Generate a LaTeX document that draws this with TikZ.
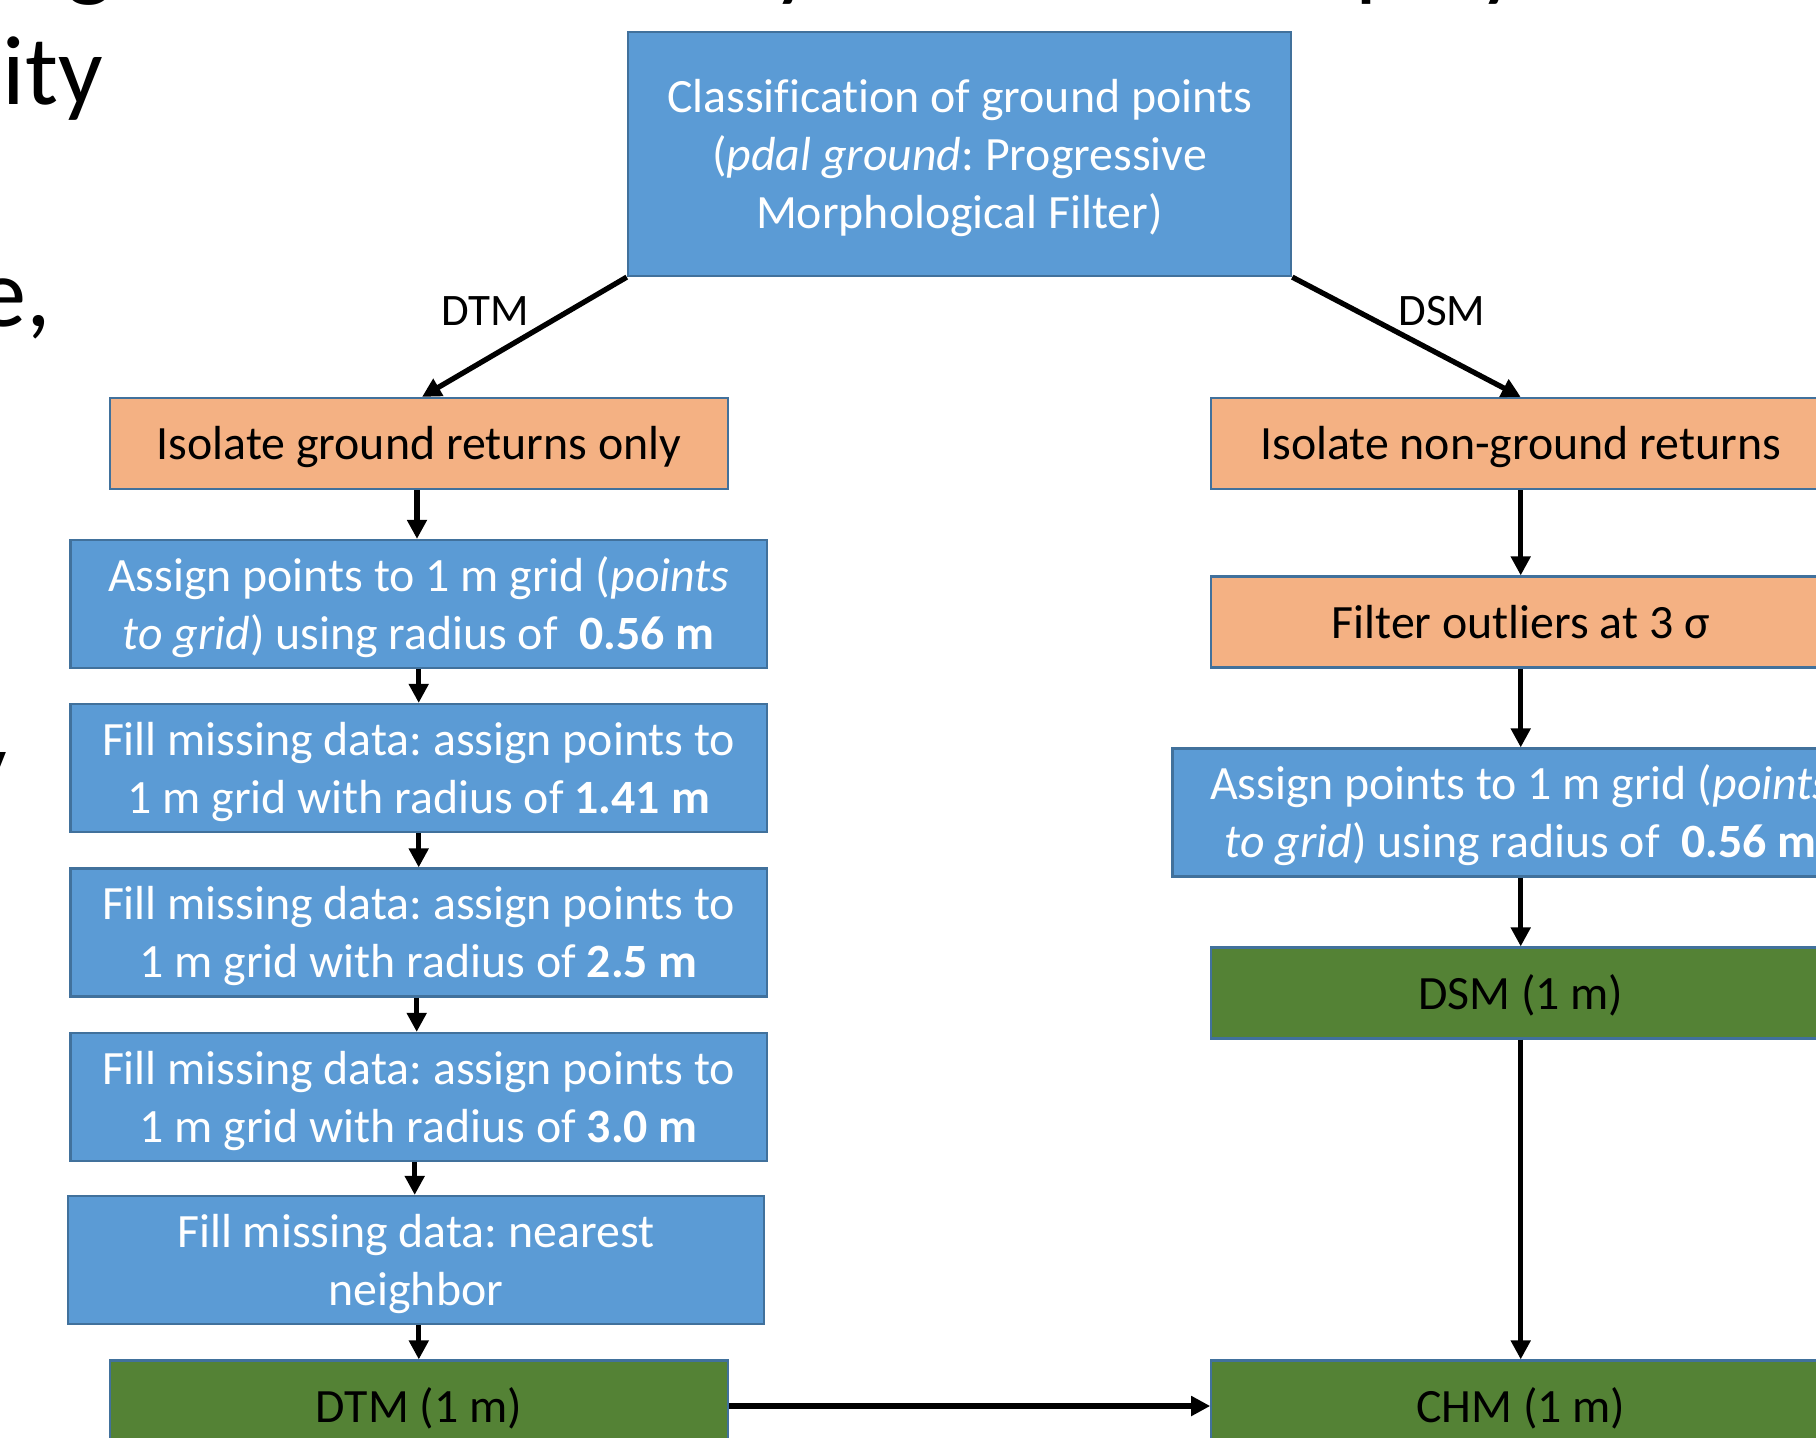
\documentclass[tikz,border=0pt]{standalone}
\usepackage{fontspec}
\setmainfont{Carlito}[Ligatures=CommonOff]
\usetikzlibrary{arrows.meta}
\definecolor{boxblue}{HTML}{5B9BD5}
\definecolor{boxedge}{HTML}{41719C}
\definecolor{boxorange}{HTML}{F4B183}
\definecolor{boxgreen}{HTML}{548235}
\newcommand\bxfont{\fontsize{13.6}{16.5}\selectfont\frenchspacing}
\newcommand\bgfont{\fontsize{28}{34}\selectfont}
\newcommand\lblfont{\fontsize{12.8}{15}\selectfont}
% lower box text slightly without changing its reported size
\newcommand\bxt[1]{\raisebox{-0.045cm}[\height][\depth]{\begin{tabular}{@{}c@{}}#1\end{tabular}}}
\begin{document}
\begin{tikzpicture}[x=0.01cm,y=-0.01cm,
  basebox/.style={rectangle, draw=boxedge, line width=0.6pt,
    font=\bxfont, inner sep=0pt},
  bluebox/.style={basebox, fill=boxblue, text=white,
    minimum width=6.96cm, minimum height=1.28cm},
  topbox/.style={basebox, fill=boxblue, text=white,
    minimum width=6.63cm, minimum height=2.44cm},
  orangebox/.style={basebox, fill=boxorange, text=black,
    minimum width=6.185cm, minimum height=0.91cm},
  greenbox/.style={basebox, fill=boxgreen, text=black,
    minimum width=6.185cm, minimum height=0.91cm},
  bgtext/.style={inner sep=0pt, font=\bgfont, text=black},
  lbl/.style={inner sep=0pt, font=\lblfont, text=black},
  arr/.style={draw=black, line width=1.5pt,
    -{Triangle[length=0.19cm,width=0.19cm]}}]
\useasboundingbox (0,0) rectangle (1816,1437);
\clip (0,0) rectangle (1816,1437);

% fragments of slide text behind the diagram
\node[bgtext, anchor=base west] (t1) at (2,105) {ity};
\node[bgtext, anchor=base east] (t2) at (52,327) {e,};
\node[bgtext, anchor=base east] (t3) at (8,799) {y};
\node[bgtext, anchor=base west] (t4) at (66,-11) {g};
\node[bgtext, anchor=base west] (t5) at (772,-11) {y};
\node[bgtext, anchor=base west] (t6) at (1355,-11) {p};
\node[bgtext, anchor=base west] (t7) at (1478,-11) {y};

% top
\node[topbox] (cls) at (959.5,154) {\bxt{Classification of ground points\\(\textit{pdal ground}: Progressive\\Morphological Filter)}};

% left column
\node[orangebox] (iso) at (419,443.5) {\bxt{Isolate ground returns only}};
\node[bluebox] (a1) at (418.7,604) {\bxt{Assign points to 1 m grid (\textit{points}\\\textit{to grid}) using radius of~~\textbf{0.56 m}}};
\node[bluebox] (f1) at (418.7,768) {\bxt{Fill missing data: assign points to\\1 m grid with radius of \textbf{1.41 m}}};
\node[bluebox] (f2) at (418.7,932.5) {\bxt{Fill missing data: assign points to\\1 m grid with radius of \textbf{2.5 m}}};
\node[bluebox] (f3) at (418.7,1097) {\bxt{Fill missing data: assign points to\\1 m grid with radius of \textbf{3.0 m}}};
\node[bluebox] (f4) at (415.8,1260) {\bxt{Fill missing data: nearest\\neighbor}};
\node[greenbox] (dtm) at (419,1406) {\bxt{DTM (1 m)}};

% right column
\node[orangebox] (non) at (1520.7,443.5) {\bxt{Isolate non-ground returns}};
\node[orangebox] (flt) at (1520.7,622) {\bxt{Filter outliers at 3 σ}};
\node[bluebox] (a2) at (1520.7,812.5) {\bxt{Assign points to 1 m grid (\textit{points}\\\textit{to grid}) using radius of~~\textbf{0.56 m}}};
\node[greenbox] (dsm) at (1520.7,993) {\bxt{DSM (1 m)}};
\node[greenbox] (chm) at (1520.7,1406) {\bxt{CHM (1 m)}};

% labels
\node[lbl, anchor=base] (ldtm) at (485,326) {DTM};
\node[lbl, anchor=base] (ldsm) at (1442,326) {DSM};

% connectors
\draw[arr] (cls.south west) -- ([xshift=0.03cm]iso.north);
\draw[arr] (cls.south east) -- (non.north);
\draw[arr] ([xshift=-0.02cm]iso.south) -- ([xshift=-0.02cm]iso.south |- a1.north);
\draw[arr] (a1.south) -- (a1.south |- f1.north);
\draw[arr] (f1.south) -- (f1.south |- f2.north);
\draw[arr] ([xshift=-0.02cm]f2.south) -- ([xshift=-0.02cm]f2.south |- f3.north);
\draw[arr] ([xshift=-0.04cm]f3.south) -- ([xshift=-0.04cm]f3.south |- f4.north);
\draw[arr] ([xshift=0.03cm]f4.south) -- ([xshift=0.03cm]f4.south |- dtm.north);
\draw[arr] (non.south) -- (flt.north);
\draw[arr] (flt.south) -- (a2.north);
\draw[arr] (a2.south) -- (dsm.north);
\draw[arr] (dsm.south) -- (chm.north);
\draw[arr] (dtm.east) -- (chm.west);
\end{tikzpicture}
\end{document}
